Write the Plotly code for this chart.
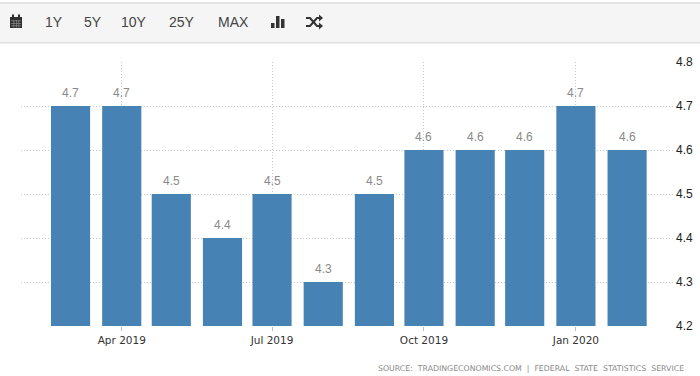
import plotly.graph_objects as go

months = ["2019-03-01","2019-04-01","2019-05-01","2019-06-01","2019-07-01","2019-08-01",
          "2019-09-01","2019-10-01","2019-11-01","2019-12-01","2020-01-01","2020-02-01"]
values = [4.7,4.7,4.5,4.4,4.5,4.3,4.5,4.6,4.6,4.6,4.7,4.6]
value_labels = ["4.7","4.7","4.5","4.4","4.5","4.3","4.5","4.6","4.6","4.6","4.7","4.6"]
tick_dates = ["2019-04-01","2019-07-01","2019-10-01","2020-01-01"]
tick_labels = ["Apr 2019","Jul 2019","Oct 2019","Jan 2020"]
y_ticks = [4.2,4.3,4.4,4.5,4.6,4.7,4.8]
buttons = [("1Y",54),("5Y",93),("10Y",134),("25Y",182),("MAX",233)]
source = "SOURCE:  TRADINGECONOMICS.COM  |  FEDERAL  STATE  STATISTICS  SERVICE"

W,H = 700,376
L,R,T,B = 21,675,62,326
DAY = 86400000
px = lambda x:(x-L)/(R-L)
py = lambda y:(B-y)/(B-T)

fig = go.Figure(go.Bar(
    x=months, y=values, width=23.7*DAY, marker=dict(color="#4682b4",line_width=0),
    cliponaxis=False, hoverinfo="skip"))

shapes=[]
def rect(x0,y0,x1,y1,c):
    shapes.append(dict(type="rect",xref="paper",yref="paper",x0=px(x0),x1=px(x1),y0=py(y0),y1=py(y1),
                       fillcolor=c,line_width=0,layer="above"))
rect(0,3,700,43,"#f5f5f5")
rect(0,2,700,4,"#e3e3e3")
rect(0,42,700,43.5,"#e0e0e0")
# calendar icon
rect(10,17,22,28,"#2f2f2f")
rect(12,14.5,14,18,"#2f2f2f"); rect(18,14.5,20,18,"#2f2f2f")
for yy in (20.5,23,25.5):
    rect(11,yy,21,yy+0.7,"#8c8c8c")
for xx in (13.5,16,18.5):
    rect(xx,20,xx+0.7,27.5,"#8c8c8c")
# bar chart icon
rect(271,23,274.5,28,"#333333"); rect(276,16,279.5,28,"#333333"); rect(281,19,284.5,28,"#333333")
# shuffle icon
def path(d_pts,width=2):
    d="M "+" L ".join(f"{px(a)},{py(b)}" for a,b in d_pts)
    shapes.append(dict(type="path",xref="paper",yref="paper",path=d,line=dict(color="#333333",width=width),layer="above"))
path([(306,18),(310,18),(317,26),(320,26)])
path([(306,26),(310,26),(317,18),(320,18)])
for yy in (18,26):
    shapes.append(dict(type="path",xref="paper",yref="paper",
        path=f"M {px(319)},{py(yy-3.5)} L {px(323)},{py(yy)} L {px(319)},{py(yy+3.5)} Z",
        fillcolor="#333333",line_width=0,layer="above"))

ann=[]
for m,v,t in zip(months,values,value_labels):
    ann.append(dict(text=t,x=m,y=v,xref="x",yref="y",showarrow=False,xanchor="center",yanchor="bottom",
                    yshift=4,font=dict(family="Liberation Sans",size=12,color="#8a8a8a")))
for label,x in buttons:
    ann.append(dict(text=label,xref="paper",yref="paper",x=px(x),y=py(22.5),showarrow=False,
                    xanchor="center",yanchor="middle",font=dict(family="Liberation Sans",size=14,color="#444444")))
ann.append(dict(text=source,xref="paper",yref="paper",x=px(685.5),y=py(368),showarrow=False,
                xanchor="right",yanchor="middle",font=dict(family="DejaVu Sans",size=7.8,color="#8a8a8a")))

fig.update_layout(
    width=W,height=H,autosize=False,margin=dict(l=L,r=W-R,t=T,b=H-B,autoexpand=False,pad=0),
    paper_bgcolor="white",plot_bgcolor="white",showlegend=False,
    shapes=shapes,annotations=ann,
    xaxis=dict(type="date",range=["2019-01-30","2020-03-01"],tickmode="array",tickvals=tick_dates,ticktext=tick_labels,
               automargin=False,
               showgrid=True,gridcolor="#c8c8c8",griddash="1px,2px",gridwidth=1,ticks="outside",ticklen=4,tickcolor="#c0c0c0",
               showline=False,zeroline=False,tickfont=dict(family="DejaVu Sans",size=10.5,color="#333333")),
    yaxis=dict(range=[4.2,4.8],side="right",tickmode="array",tickvals=y_ticks,ticktext=[f"{v:.1f}" for v in y_ticks],
               automargin=False,
               showgrid=True,gridcolor="#c8c8c8",griddash="1px,2px",gridwidth=1,ticks="",showline=False,zeroline=False,
               tickfont=dict(family="Liberation Sans",size=12,color="#222222")),
)
fig.write_html("out.html",config=dict(displayModeBar=False),
               post_script="document.body.style.margin='0';document.body.style.overflow='hidden';")
